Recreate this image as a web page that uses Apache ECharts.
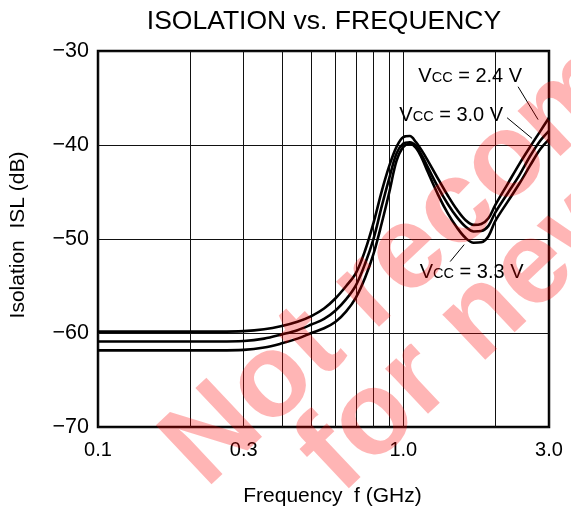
<!DOCTYPE html>
<html><head><meta charset="utf-8">
<script src="https://cdn.jsdelivr.net/npm/echarts@6/dist/echarts.min.js"></script>
<style>html,body{margin:0;padding:0;background:#fff}#c{width:571px;height:512px}</style>
</head><body><div id="c"></div>
<script>
const freqs = [0.1,0.15,0.2,0.25,0.3,0.35,0.4,0.45,0.5,0.55,0.6,0.65,0.7,0.75,0.8,0.85,0.9,0.95,1.0,1.05,1.1,1.15,1.2,1.3,1.4,1.5,1.6,1.7,1.8,1.9,2.0,2.2,2.4,2.6,2.8,3.0];
const vcc24 = [-59.85,-59.85,-59.85,-59.85,-59.8,-59.6,-59.25,-58.8,-58.2,-57.4,-56.3,-55.0,-53.6,-51.2,-48.2,-44.9,-42.2,-40.2,-39.15,-39.05,-39.7,-40.6,-41.6,-43.6,-45.4,-46.9,-48.0,-48.5,-48.4,-47.8,-46.4,-44.1,-42.0,-40.2,-38.6,-37.1];
const vcc30 = [-60.9,-60.9,-60.9,-60.9,-60.85,-60.6,-60.15,-59.7,-59.1,-58.5,-57.6,-56.4,-54.9,-52.6,-49.9,-46.5,-43.5,-40.9,-39.85,-39.7,-40.1,-41.1,-42.3,-44.5,-46.3,-47.7,-48.7,-49.2,-49.15,-48.6,-47.2,-45.1,-43.2,-41.2,-39.6,-38.5];
const vcc33 = [-61.85,-61.85,-61.85,-61.85,-61.8,-61.55,-61.1,-60.6,-60.0,-59.5,-58.8,-57.7,-56.2,-54.1,-51.5,-48.3,-45.0,-41.7,-40.2,-39.9,-40.3,-41.4,-42.8,-45.3,-47.3,-48.8,-49.9,-50.4,-50.35,-49.7,-48.1,-46.0,-44.1,-42.2,-40.5,-39.4];
const xGridValues = [0.1,0.2,0.3,0.4,0.5,0.6,0.7,0.8,0.9,1,2,3];
const xLabelValues = [0.1,0.3,1,3];
const seriesNames = ['2.4 V','3.0 V','3.3 V'];

const FONT = 'Liberation Sans, Arial, Helvetica, sans-serif';
const pair = (ys) => freqs.map((f,i)=>[f, ys[i]]);
const minus = v => (v < 0 ? '\u2212' + Math.abs(v) : String(v));
const rich = { v:{fontSize:20, fontFamily:FONT, color:'#000'}, cc:{fontSize:14.5, fontFamily:FONT, color:'#000', verticalAlign:'bottom', padding:[0,0,1,0]} };
const vccLabel = (val) => '{v|V}{cc|CC}{v| = ' + val + '}';

const chart = echarts.init(document.getElementById('c'), null, {renderer:'canvas'});
const lineBase = {type:'line', showSymbol:false, symbol:'none', smooth:0.35, lineStyle:{color:'#000', width:2.6}, z:3, animation:false};
const wmFont = 'bold 118px Liberation Sans, Arial, sans-serif';
const wmFill = 'rgba(255,0,0,0.29)';

chart.setOption({
  animation:false,
  backgroundColor:'#fff',
  title:{text:'ISOLATION vs. FREQUENCY', left:319, top:3, textAlign:'center', textStyle:{fontFamily:FONT, fontSize:26.5, fontWeight:'normal', color:'#000'}},
  grid:{left:97, right:22, top:51, bottom:84, show:true, borderColor:'#000', borderWidth:2.5, backgroundColor:'transparent', containLabel:false},
  xAxis:{type:'log', logBase:10, min:0.1, max:3,
    name:'Frequency  f (GHz)', nameLocation:'middle', nameGap:59,
    nameTextStyle:{fontFamily:FONT, fontSize:21, color:'#000', padding:[0,0,0,18]},
    axisLine:{show:false}, axisTick:{show:false, customValues:xGridValues},
    axisLabel:{customValues:xLabelValues, formatter:v=>Number(v).toFixed(1), fontFamily:FONT, fontSize:20, color:'#000', margin:13},
    splitLine:{show:true, lineStyle:{color:'#111', width:1}}, minorTick:{show:false}, minorSplitLine:{show:false}},
  yAxis:{type:'value', min:-70, max:-30, interval:10,
    name:'Isolation  ISL (dB)', nameLocation:'middle', nameGap:69,
    nameTextStyle:{fontFamily:FONT, fontSize:21, color:'#000', padding:[0,0,0,8]},
    axisLine:{show:false}, axisTick:{show:false},
    axisLabel:{formatter:minus, fontFamily:FONT, fontSize:21.5, color:'#000', margin:9},
    splitLine:{show:true, lineStyle:{color:'#111', width:1}}},
  series:[
    Object.assign({}, lineBase, {name:seriesNames[0], data:pair(vcc24),
      markPoint:{symbol:'circle', symbolSize:0, silent:true, animation:false,
        label:{show:true, position:'inside', rich:rich, formatter:p=>vccLabel(p.name)},
        data:[{name:'2.4 V', coord:[1.656,-32.7]},{name:'3.0 V', coord:[1.435,-36.9]},{name:'3.3 V', coord:[1.674,-53.6]}]},
      markLine:{silent:true, animation:false, symbol:['none','arrow'], symbolSize:[0,9], label:{show:false},
        lineStyle:{color:'#000', width:1, type:'solid'},
        data:[[{coord:[2.376,-33.8]},{coord:[2.763,-37.3]}],[{coord:[2.187,-37.1]},{coord:[2.64,-39.3]}],[{coord:[1.424,-52.4]},{coord:[1.582,-50.6]}]]}}),
    Object.assign({}, lineBase, {name:seriesNames[1], data:pair(vcc30)}),
    Object.assign({}, lineBase, {name:seriesNames[2], data:pair(vcc33)})
  ],
  graphic:[
    {type:'text', x:224, y:509, rotation:0.755, z:100, silent:true,
      style:{text:'Not recommended', font:wmFont, fill:wmFill, textAlign:'left', textVerticalAlign:'bottom'}},
    {type:'text', x:359, y:515, rotation:0.755, z:100, silent:true,
      style:{text:'for new design', font:wmFont, fill:wmFill, textAlign:'left', textVerticalAlign:'bottom'}}
  ]
});
</script></body></html>
